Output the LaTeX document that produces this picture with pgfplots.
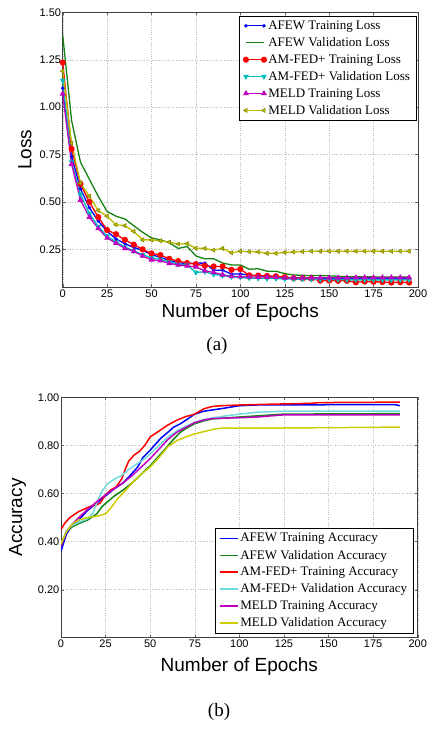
\documentclass[border=0pt]{standalone}
\usepackage{fontspec}
\setmainfont{Liberation Serif}
\setsansfont{Liberation Sans}
\usepackage{pgfplots}
\pgfplotsset{compat=1.18}
\usepackage{xcolor}
\definecolor{mblue}{RGB}{0,0,255}
\definecolor{mgreen}{RGB}{20,130,20}
\definecolor{mred}{RGB}{255,0,0}
\definecolor{mcyan}{RGB}{0,190,190}
\definecolor{mcyanl}{RGB}{110,220,220}
\definecolor{mmag}{RGB}{190,0,190}
\definecolor{myel}{RGB}{190,190,0}
\definecolor{myell}{RGB}{205,205,0}

% legend sample: short line with a mark at each end
\pgfplotsset{
  legend image code/.code={%
    \draw[mark repeat=2, mark phase=1, #1]
      plot coordinates {(0pt,0pt) (9pt,0pt) (18pt,0pt)};},
}

\pgfplotsset{
  common/.style={
    scale only axis,
    xmin=0, xmax=200,
    xtick={0,25,...,200},
    grid=major,
    major grid style={gray!55, dash pattern=on 0.8pt off 1.6pt},
    axis line style={black!75, line width=0.8pt},
    tick style={black!60},
    major tick length=3pt,
    /pgf/number format/assume math mode=true,
    ticklabel style={font=\sffamily\fontsize{11}{12}\selectfont},
    yticklabel style={/pgf/number format/fixed, /pgf/number format/fixed zerofill,
                      /pgf/number format/precision=2, inner xsep=1.5pt},
    xticklabel style={inner ysep=2pt},
    label style={font=\sffamily\fontsize{19}{22}\selectfont},
    legend cell align=left,
    legend style={font=\rmfamily\fontsize{13}{15}\selectfont,
                  inner xsep=4pt, inner ysep=3pt, row sep=2.6pt},
  },
}

\begin{document}
\begin{tikzpicture}
\useasboundingbox (0,0) rectangle (433pt,730pt);

% (a) loss
\begin{axis}[common,
    at={(62.7pt,442.7pt)}, anchor=south west,
    width=355.3pt, height=275pt,
    ymin=0.05, ymax=1.5,
    ytick={0.25,0.5,...,1.5},
    xlabel={Number of Epochs}, ylabel={Loss},
    xlabel style={at={(axis description cs:0.5,-0.093)}, anchor=center},
    ylabel style={at={(axis description cs:-0.106,0.5)}, anchor=center},
    legend style={at={(0.995,0.988)}, anchor=north east},
]
\addplot[color=mblue, line width=1.3pt, mark=*, mark size=1pt] coordinates {
(0,1.10) (5,0.74) (10,0.57) (15,0.47) (20,0.40) (25,0.345) (30,0.305) (35,0.28)
(40,0.26) (45,0.245) (50,0.222) (55,0.208) (60,0.192) (65,0.180) (70,0.175)
(75,0.178) (80,0.177) (85,0.140) (90,0.140) (95,0.120) (100,0.120) (105,0.115)
(110,0.110) (115,0.108) (120,0.105) (125,0.102) (130,0.100) (135,0.100)
(140,0.100) (145,0.098) (150,0.098) (155,0.097) (160,0.097) (165,0.096)
(170,0.096) (175,0.095) (180,0.095) (185,0.095) (190,0.095) (195,0.095)};
\addlegendentry{AFEW Training Loss}
\addplot[color=mgreen, line width=1.3pt, mark=none] coordinates {
(0,1.38) (5,0.93) (10,0.71) (15,0.62) (20,0.53) (25,0.45) (30,0.425) (35,0.41)
(40,0.375) (45,0.34) (50,0.31) (55,0.30) (60,0.285) (65,0.255) (70,0.265)
(75,0.215) (80,0.200) (85,0.200) (90,0.178) (95,0.168) (100,0.168) (105,0.145)
(110,0.148) (115,0.135) (120,0.135) (125,0.122) (130,0.115) (135,0.113)
(140,0.112) (145,0.112) (150,0.110) (155,0.108) (160,0.106) (165,0.106)
(170,0.105) (175,0.105) (180,0.104) (185,0.104) (190,0.104) (195,0.104)};
\addlegendentry{AFEW Validation Loss}
\addplot[color=mred, line width=1.3pt, mark=*, mark size=2.4pt] coordinates {
(0,1.235) (5,0.78) (10,0.595) (15,0.50) (20,0.42) (25,0.352) (30,0.330)
(35,0.300) (40,0.275) (45,0.250) (50,0.228) (55,0.220) (60,0.200) (65,0.188)
(70,0.178) (75,0.172) (80,0.163) (85,0.160) (90,0.160) (95,0.142) (100,0.146)
(105,0.113) (110,0.112) (115,0.110) (120,0.108) (125,0.104) (130,0.098)
(135,0.097) (140,0.096) (145,0.085) (150,0.085) (155,0.084) (160,0.084)
(165,0.076) (170,0.080) (175,0.079) (180,0.078) (185,0.075) (190,0.077) (195,0.075)};
\addlegendentry{AM-FED+ Training Loss}
\addplot[color=mcyan, line width=1.3pt, mark=triangle*, mark size=2pt, mark options={rotate=180}] coordinates {
(0,1.14) (5,0.71) (10,0.54) (15,0.44) (20,0.37) (25,0.32) (30,0.29) (35,0.262)
(40,0.242) (45,0.222) (50,0.205) (55,0.198) (60,0.183) (65,0.172) (70,0.168)
(75,0.128) (80,0.132) (85,0.118) (90,0.112) (95,0.106) (100,0.102) (105,0.098)
(110,0.097) (115,0.096) (120,0.096) (125,0.094) (130,0.093) (135,0.093)
(140,0.092) (145,0.091) (150,0.091) (155,0.090) (160,0.089) (165,0.089)
(170,0.089) (175,0.089) (180,0.089) (185,0.089) (190,0.089) (195,0.089)};
\addlegendentry{AM-FED+ Validation Loss}
\addplot[color=mmag, line width=1.3pt, mark=triangle*, mark size=2.2pt] coordinates {
(0,1.07) (5,0.70) (10,0.51) (15,0.42) (20,0.36) (25,0.31) (30,0.283) (35,0.255)
(40,0.24) (45,0.215) (50,0.195) (55,0.190) (60,0.176) (65,0.168) (70,0.163)
(75,0.157) (80,0.137) (85,0.128) (90,0.116) (95,0.107) (100,0.106) (105,0.105)
(110,0.104) (115,0.104) (120,0.103) (125,0.100) (130,0.099) (135,0.100)
(140,0.100) (145,0.100) (150,0.100) (155,0.100) (160,0.100) (165,0.101)
(170,0.101) (175,0.101) (180,0.101) (185,0.101) (190,0.101) (195,0.101)};
\addlegendentry{MELD Training Loss}
\addplot[color=myel, line width=1.3pt, mark=triangle*, mark size=2.4pt,
         mark options={rotate=90, fill=myel, draw=myel!70!black, line width=0.6pt}] coordinates {
(0,1.19) (5,0.81) (10,0.60) (15,0.53) (20,0.455) (25,0.425) (30,0.38) (35,0.375)
(40,0.345) (45,0.300) (50,0.300) (55,0.295) (60,0.288) (65,0.278) (70,0.280)
(75,0.256) (80,0.255) (85,0.246) (90,0.255) (95,0.232) (100,0.240) (105,0.238)
(110,0.236) (115,0.229) (120,0.229) (125,0.234) (130,0.236) (135,0.238)
(140,0.240) (145,0.240) (150,0.240) (155,0.240) (160,0.240) (165,0.240)
(170,0.240) (175,0.240) (180,0.240) (185,0.240) (190,0.240) (195,0.240)};
\addlegendentry{MELD Validation Loss}
\end{axis}

\node[font=\rmfamily\fontsize{19}{22}\selectfont] at (217pt,384pt) {(a)};

% (b) accuracy
\begin{axis}[common,
    at={(61pt,92.3pt)}, anchor=south west,
    width=356.7pt, height=240.4pt,
    ymin=0, ymax=1,
    ytick={0.2,0.4,...,1.0},
    xlabel={Number of Epochs}, ylabel={Accuracy},
    xlabel style={at={(axis description cs:0.5,-0.12)}, anchor=center},
    ylabel style={at={(axis description cs:-0.122,0.5)}, anchor=center},
    legend style={at={(0.988,0.018)}, anchor=south east},
]
\addplot[color=mblue, line width=1.5pt, mark=none] coordinates {
(0,0.36) (3,0.43) (6,0.465) (10,0.49) (15,0.53) (20,0.56) (25,0.59) (30,0.62)
(35,0.645) (40,0.685) (43,0.71) (46,0.75) (50,0.78) (53,0.805) (56,0.83)
(60,0.855) (63,0.875) (67,0.89) (70,0.905) (75,0.93) (80,0.942) (90,0.953)
(100,0.965) (110,0.968) (187,0.97) (190,0.965)};
\addlegendentry{AFEW Training Accuracy}
\addplot[color=mgreen, line width=1.5pt, mark=none] coordinates {
(0,0.38) (3,0.44) (6,0.46) (10,0.475) (15,0.49) (20,0.515) (23,0.545) (26,0.565)
(30,0.59) (35,0.615) (40,0.645) (43,0.665) (47,0.695) (50,0.715) (53,0.74)
(56,0.765) (59,0.79) (63,0.825) (67,0.855) (70,0.87) (75,0.89) (80,0.902)
(85,0.91) (100,0.918) (125,0.93) (190,0.932)};
\addlegendentry{AFEW Validation Accuracy}
\addplot[color=mred, line width=1.5pt, mark=none] coordinates {
(0,0.45) (2,0.475) (5,0.50) (8,0.515) (10,0.525) (13,0.535) (16,0.545) (20,0.553)
(22,0.56) (25,0.595) (28,0.615) (31,0.628) (34,0.66) (36,0.70) (38,0.735)
(41,0.76) (44,0.775) (47,0.80) (50,0.835) (53,0.85) (56,0.865) (60,0.885)
(65,0.905) (70,0.92) (75,0.93) (80,0.952) (85,0.962) (90,0.965) (100,0.968)
(110,0.97) (140,0.975) (145,0.978) (190,0.98)};
\addlegendentry{AM-FED+ Training Accuracy}
\addplot[color=mcyanl, line width=1.5pt, mark=none] coordinates {
(0,0.39) (3,0.445) (6,0.465) (10,0.48) (15,0.495) (18,0.52) (20,0.56) (23,0.61)
(26,0.64) (30,0.66) (34,0.675) (38,0.70) (42,0.72) (46,0.74) (50,0.765)
(55,0.80) (60,0.835) (65,0.86) (70,0.88) (75,0.895) (80,0.908) (90,0.92)
(100,0.93) (110,0.938) (125,0.942) (190,0.942)};
\addlegendentry{AM-FED+ Validation Accuracy}
\addplot[color=mmag, line width=1.5pt, mark=none] coordinates {
(0,0.38) (3,0.44) (6,0.47) (10,0.50) (15,0.535) (20,0.565) (25,0.595) (30,0.62)
(35,0.645) (40,0.675) (45,0.71) (50,0.745) (55,0.785) (60,0.825) (65,0.855)
(70,0.875) (75,0.895) (80,0.905) (85,0.912) (100,0.915) (110,0.918)
(125,0.927) (190,0.927)};
\addlegendentry{MELD Training Accuracy}
\addplot[color=myell, line width=1.5pt, mark=none] coordinates {
(0,0.39) (3,0.44) (6,0.47) (10,0.49) (15,0.50) (20,0.505) (25,0.515) (28,0.54)
(32,0.58) (36,0.61) (40,0.645) (45,0.68) (50,0.71) (55,0.75) (60,0.795)
(65,0.82) (70,0.835) (75,0.848) (80,0.857) (85,0.866) (90,0.872) (120,0.872)
(190,0.876)};
\addlegendentry{MELD Validation Accuracy}
\end{axis}

\node[font=\rmfamily\fontsize{19}{22}\selectfont] at (219pt,18pt) {(b)};
\end{tikzpicture}
\end{document}
